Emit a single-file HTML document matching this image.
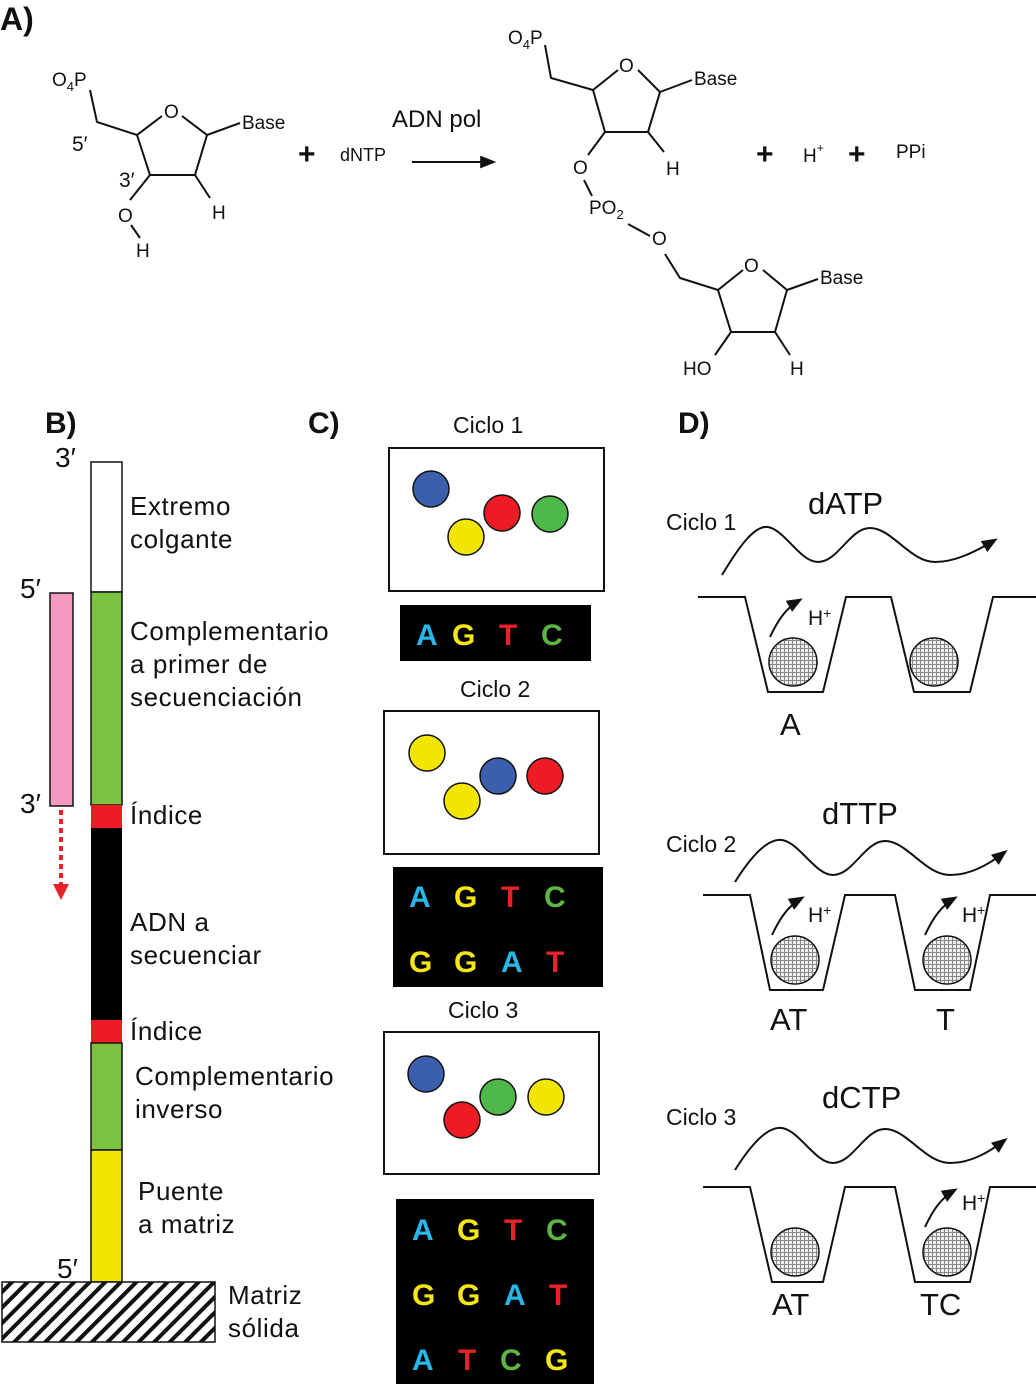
<!DOCTYPE html>
<html><head><meta charset="utf-8"><style>
html,body{margin:0;padding:0;background:#fff}
svg{display:block}
text{font-family:"Liberation Sans",sans-serif;fill:#111}
.b{font-weight:bold}
.L{font-size:26px;letter-spacing:0.6px}
.ln{stroke:#111;stroke-width:2;fill:none}
text.nt{font-size:30px;font-weight:bold}
text.cA{fill:#29b6e8} text.cG{fill:#f5e614} text.cT{fill:#e8212a} text.cC{fill:#5db544}
</style></head><body>
<svg width="1036" height="1386" viewBox="0 0 1036 1386" xmlns="http://www.w3.org/2000/svg">
<defs>
<pattern id="hatch" width="11" height="11" patternUnits="userSpaceOnUse" patternTransform="rotate(45)">
<rect width="11" height="11" fill="#fff"/><rect width="4" height="11" fill="#111"/></pattern>
<pattern id="grid" width="4" height="4" patternUnits="userSpaceOnUse">
<rect width="4" height="4" fill="#888"/><rect x="1" y="1" width="3" height="3" fill="#eee"/></pattern>
<marker id="ah2" viewBox="0 0 10 10" refX="8" refY="5" markerWidth="16" markerHeight="16" orient="auto" markerUnits="userSpaceOnUse">
<path d="M0,1 L10,5 L0,9z" fill="#111"/></marker>
<marker id="ahr" viewBox="0 0 10 10" refX="5" refY="5" markerWidth="16" markerHeight="16" orient="auto" markerUnits="userSpaceOnUse">
<path d="M0,0 L10,5 L0,10z" fill="#e8212a"/></marker>
</defs>

<!-- Panel A -->
<text x="0" y="30" class="b" font-size="32">A)</text>
<g class="ln">
<path d="M90,90 L97,122 L137,135 L162,116 M182,116 L207,135 L195,175 L150,175 L137,135 M207,135 L240,123 M195,175 L210,198 M150,175 L130,200 M131,225 L140,238"/>
</g>
<text x="52" y="86" font-size="19">O<tspan font-size="13" dy="5">4</tspan><tspan dy="-5">P</tspan></text>
<text x="164" y="118" font-size="19">O</text>
<text x="242" y="129" font-size="19">Base</text>
<text x="72" y="151" font-size="21">5′</text>
<text x="119" y="187" font-size="21">3′</text>
<text x="118" y="222" font-size="19">O</text>
<text x="136" y="257" font-size="19">H</text>
<text x="212" y="219" font-size="19">H</text>
<text x="298" y="164" font-size="30" class="b">+</text>
<text x="340" y="161" font-size="18">dNTP</text>
<text x="392" y="127" font-size="24">ADN pol</text>
<line x1="412" y1="162" x2="493" y2="162" class="ln" marker-end="url(#ah2)"/>

<g class="ln">
<path d="M545,45 L551,78 L593,90 L618,70 M638,70 L660,92 L648,132 L605,132 L593,90 M660,92 L692,80 M648,132 L664,152 M605,132 L588,155 M584,180 L592,196 M628,224 L650,236 M665,254 L680,278 L718,290 L743,270 M763,270 L787,290 L775,332 L731,332 L718,290 M787,290 L818,279 M731,332 L715,355 M775,332 L790,355"/>
</g>
<text x="508" y="44" font-size="19">O<tspan font-size="13" dy="5">4</tspan><tspan dy="-5">P</tspan></text>
<text x="619" y="72" font-size="19">O</text>
<text x="694" y="85" font-size="19">Base</text>
<text x="666" y="175" font-size="19">H</text>
<text x="573" y="174" font-size="19">O</text>
<text x="589" y="214" font-size="19">PO<tspan font-size="13" dy="5">2</tspan></text>
<text x="652" y="245" font-size="19">O</text>
<text x="744" y="272" font-size="19">O</text>
<text x="820" y="284" font-size="19">Base</text>
<text x="683" y="375" font-size="19">HO</text>
<text x="790" y="375" font-size="19">H</text>
<text x="756" y="164" font-size="30" class="b">+</text>
<text x="803" y="162" font-size="19">H<tspan font-size="12" dy="-10">+</tspan></text>
<text x="848" y="164" font-size="30" class="b">+</text>
<text x="896" y="158" font-size="19">PPi</text>

<!-- Panel B -->
<text x="45" y="433" class="b" font-size="30">B)</text>
<text x="55" y="467" font-size="28">3′</text>
<rect x="91" y="462" width="31" height="130" fill="#fff" stroke="#111" stroke-width="1.5"/>
<rect x="91" y="592" width="31" height="213" fill="#7dc242" stroke="#111" stroke-width="1.5"/>
<rect x="91" y="805" width="31" height="23" fill="#ed1c24"/>
<rect x="91" y="828" width="31" height="192" fill="#000"/>
<rect x="91" y="1020" width="31" height="23" fill="#ed1c24"/>
<rect x="91" y="1043" width="31" height="107" fill="#7dc242" stroke="#111" stroke-width="1.5"/>
<rect x="91" y="1150" width="31" height="132" fill="#f2e600" stroke="#111" stroke-width="1.5"/>
<rect x="50" y="593" width="23" height="213" fill="#f49ac1" stroke="#111" stroke-width="1.5"/>
<text x="20" y="598" font-size="28">5′</text>
<text x="20" y="813" font-size="28">3′</text>
<line x1="61" y1="810" x2="61" y2="892" stroke="#e8212a" stroke-width="4" stroke-dasharray="5,4" marker-end="url(#ahr)"/>
<rect x="2" y="1282" width="213" height="60" fill="url(#hatch)" stroke="#111" stroke-width="1.5"/>
<text x="57" y="1278" font-size="28">5′</text>
<g>
<text class="L" x="130" y="515">Extremo</text><text class="L" x="130" y="548">colgante</text>
<text class="L" x="130" y="640">Complementario</text><text class="L" x="130" y="673">a primer de</text><text class="L" x="130" y="706">secuenciación</text>
<text class="L" x="130" y="824">Índice</text>
<text class="L" x="130" y="931">ADN a</text><text class="L" x="130" y="964">secuenciar</text>
<text class="L" x="130" y="1040">Índice</text>
<text class="L" x="135" y="1085">Complementario</text><text class="L" x="135" y="1118">inverso</text>
<text class="L" x="138" y="1200">Puente</text><text class="L" x="138" y="1233">a matriz</text>
<text class="L" x="228" y="1304">Matriz</text><text class="L" x="228" y="1337">sólida</text>
</g>

<!-- Panel C -->
<text x="308" y="433" class="b" font-size="30">C)</text>
<text x="453" y="433" font-size="23">Ciclo 1</text>
<rect x="389" y="448" width="215" height="143" fill="#fff" stroke="#111" stroke-width="2"/>
<g stroke="#111" stroke-width="1.5">
<circle cx="431" cy="489" r="18" fill="#3b5fad"/><circle cx="466" cy="537" r="18" fill="#f2e600"/>
<circle cx="502" cy="513" r="18" fill="#ed1c24"/><circle cx="550" cy="514" r="18" fill="#4db848"/>
</g>
<rect x="400" y="605" width="191" height="56" fill="#000"/>
<text class="nt cA" x="416" y="645">A</text><text class="nt cG" x="452" y="645">G</text><text class="nt cT" x="499" y="645">T</text><text class="nt cC" x="541" y="645">C</text>
<text x="460" y="697" font-size="23">Ciclo 2</text>
<rect x="384" y="711" width="215" height="143" fill="#fff" stroke="#111" stroke-width="2"/>
<g stroke="#111" stroke-width="1.5">
<circle cx="427" cy="753" r="18" fill="#f2e600"/><circle cx="462" cy="801" r="18" fill="#f2e600"/>
<circle cx="498" cy="776" r="18" fill="#3b5fad"/><circle cx="545" cy="776" r="18" fill="#ed1c24"/>
</g>
<rect x="393" y="867" width="210" height="120" fill="#000"/>
<text class="nt cA" x="409" y="907">A</text><text class="nt cG" x="454" y="907">G</text><text class="nt cT" x="501" y="907">T</text><text class="nt cC" x="544" y="907">C</text>
<text class="nt cG" x="409" y="972">G</text><text class="nt cG" x="454" y="972">G</text><text class="nt cA" x="501" y="972">A</text><text class="nt cT" x="546" y="972">T</text>
<text x="448" y="1018" font-size="23">Ciclo 3</text>
<rect x="384" y="1032" width="215" height="142" fill="#fff" stroke="#111" stroke-width="2"/>
<g stroke="#111" stroke-width="1.5">
<circle cx="426" cy="1074" r="18" fill="#3b5fad"/><circle cx="462" cy="1120" r="18" fill="#ed1c24"/>
<circle cx="498" cy="1097" r="18" fill="#4db848"/><circle cx="546" cy="1097" r="18" fill="#f2e600"/>
</g>
<rect x="396" y="1199" width="198" height="185" fill="#000"/>
<text class="nt cA" x="412" y="1240">A</text><text class="nt cG" x="457" y="1240">G</text><text class="nt cT" x="504" y="1240">T</text><text class="nt cC" x="546" y="1240">C</text>
<text class="nt cG" x="412" y="1305">G</text><text class="nt cG" x="457" y="1305">G</text><text class="nt cA" x="504" y="1305">A</text><text class="nt cT" x="549" y="1305">T</text>
<text class="nt cA" x="412" y="1370">A</text><text class="nt cT" x="458" y="1370">T</text><text class="nt cC" x="500" y="1370">C</text><text class="nt cG" x="545" y="1370">G</text>

<!-- Panel D -->
<text x="678" y="433" class="b" font-size="30">D)</text>
<text x="666" y="530" font-size="23">Ciclo 1</text>
<text x="808" y="514" font-size="31">dATP</text>
<path d="M722,575 C740,545 755,525 768,527 C785,530 800,562 818,562 C838,562 850,528 870,528 C892,528 910,562 935,562 C955,562 975,552 995,540" class="ln" marker-end="url(#ah2)"/>
<path d="M698,597 L745,597 L768,692 L823,692 L846,597 L891,597 L914,692 L970,692 L993,597 L1036,597" class="ln"/>
<circle cx="793" cy="662" r="24" fill="url(#grid)" stroke="#111" stroke-width="1.5"/>
<circle cx="934" cy="662" r="24" fill="url(#grid)" stroke="#111" stroke-width="1.5"/>
<path d="M770,637 C778,620 786,608 800,600" class="ln" marker-end="url(#ah2)"/>
<text x="808" y="625" font-size="21">H<tspan font-size="14" dy="-7">+</tspan></text>
<text x="780" y="735" font-size="31">A</text>
<text x="666" y="852" font-size="23">Ciclo 2</text>
<text x="822" y="824" font-size="31">dTTP</text>
<path d="M735,882 C752,855 768,838 782,840 C800,843 815,875 833,875 C853,875 865,841 885,841 C907,841 925,875 950,875 C970,875 988,865 1005,852" class="ln" marker-end="url(#ah2)"/>
<path d="M703,895 L750,895 L770,990 L823,990 L845,895 L895,895 L915,990 L970,990 L990,895 L1036,895" class="ln"/>
<circle cx="795" cy="960" r="24" fill="url(#grid)" stroke="#111" stroke-width="1.5"/>
<circle cx="947" cy="960" r="24" fill="url(#grid)" stroke="#111" stroke-width="1.5"/>
<path d="M772,935 C780,918 788,906 802,898" class="ln" marker-end="url(#ah2)"/>
<text x="808" y="922" font-size="21">H<tspan font-size="14" dy="-7">+</tspan></text>
<path d="M925,935 C933,918 941,906 955,898" class="ln" marker-end="url(#ah2)"/>
<text x="962" y="922" font-size="21">H<tspan font-size="14" dy="-7">+</tspan></text>
<text x="770" y="1030" font-size="31">AT</text>
<text x="936" y="1030" font-size="31">T</text>
<text x="666" y="1125" font-size="23">Ciclo 3</text>
<text x="822" y="1108" font-size="31">dCTP</text>
<path d="M735,1170 C752,1143 768,1126 782,1128 C800,1131 815,1163 833,1163 C853,1163 865,1129 885,1129 C907,1129 925,1163 950,1163 C970,1163 988,1153 1005,1140" class="ln" marker-end="url(#ah2)"/>
<path d="M703,1187 L750,1187 L772,1282 L823,1282 L845,1187 L895,1187 L915,1282 L970,1282 L990,1187 L1036,1187" class="ln"/>
<circle cx="795" cy="1252" r="24" fill="url(#grid)" stroke="#111" stroke-width="1.5"/>
<circle cx="947" cy="1252" r="24" fill="url(#grid)" stroke="#111" stroke-width="1.5"/>
<path d="M925,1227 C933,1210 941,1198 955,1190" class="ln" marker-end="url(#ah2)"/>
<text x="962" y="1210" font-size="21">H<tspan font-size="14" dy="-7">+</tspan></text>
<text x="772" y="1315" font-size="31">AT</text>
<text x="920" y="1315" font-size="31">TC</text>
</svg>
</body></html>
